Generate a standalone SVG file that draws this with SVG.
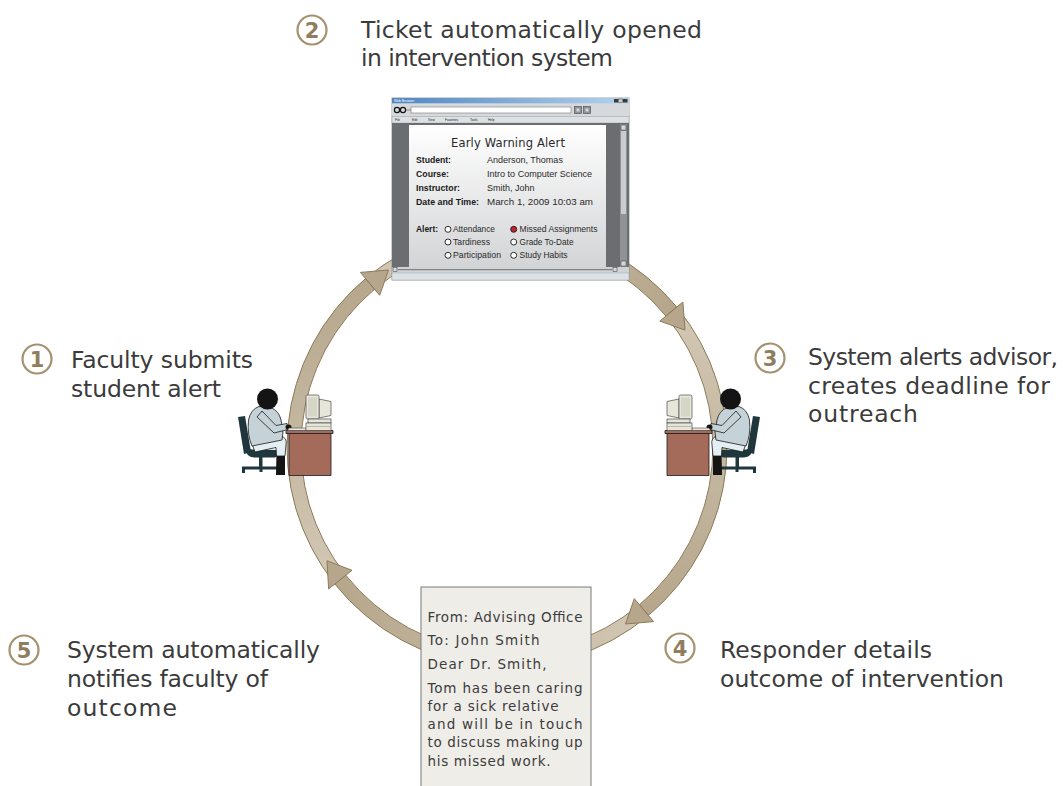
<svg xmlns="http://www.w3.org/2000/svg" xmlns:xlink="http://www.w3.org/1999/xlink" width="1063" height="786" viewBox="0 0 1063 786">
  <style>
    .label { font-family: "DejaVu Sans", "Liberation Sans", sans-serif; font-size: 23.5px; fill: #3b3b3b; }
    .num-ring { fill: #ffffff; stroke: #a3916f; stroke-width: 2.2; }
    .num { font-family: "DejaVu Sans", "Liberation Sans", sans-serif; font-size: 21px; font-weight: bold; fill: #8f7d5d; text-anchor: middle; }
    .seg { stroke: #8c7a59; stroke-width: 1; stroke-linejoin: round; }
    .note { font-family: "DejaVu Sans", "Liberation Sans", sans-serif; font-size: 13.5px; fill: #3c3c3c; }
    .ui { font-family: "Liberation Sans", Arial, sans-serif; font-size: 9px; fill: #2a2a2a; }
    .ui-b { font-family: "Liberation Sans", Arial, sans-serif; font-size: 8.5px; font-weight: bold; fill: #1a1a1a; }
    .ui-title { font-family: "DejaVu Sans", "Liberation Sans", sans-serif; font-size: 11.5px; fill: #2a2a2a; }
    .radio { fill: #ffffff; stroke: #1a1a1a; stroke-width: 0.9; }
    .menu { font-family: "Liberation Sans", Arial, sans-serif; font-size: 3.2px; fill: #222; }
    .outline { stroke: #1a1a1a; stroke-width: 0.8; stroke-linejoin: round; }
  </style>
  <defs>
    <linearGradient id="g1" gradientUnits="userSpaceOnUse" x1="340.3" y1="579.6" x2="370.1" y2="283.8">
      <stop offset="0" stop-color="#d2c7b4"/><stop offset="1" stop-color="#b6a78c"/>
    </linearGradient>
    <linearGradient id="g2" gradientUnits="userSpaceOnUse" x1="370.1" y1="283.8" x2="671.4" y2="311.5">
      <stop offset="0" stop-color="#d2c7b4"/><stop offset="1" stop-color="#b6a78c"/>
    </linearGradient>
    <linearGradient id="g3" gradientUnits="userSpaceOnUse" x1="671.4" y1="311.5" x2="643.9" y2="610.2">
      <stop offset="0" stop-color="#d2c7b4"/><stop offset="1" stop-color="#b6a78c"/>
    </linearGradient>
    <linearGradient id="g4" gradientUnits="userSpaceOnUse" x1="643.9" y1="610.2" x2="340.3" y2="579.6">
      <stop offset="0" stop-color="#d2c7b4"/><stop offset="1" stop-color="#b6a78c"/>
    </linearGradient>
    <linearGradient id="titlebar" x1="0" y1="0" x2="1" y2="0">
      <stop offset="0" stop-color="#4f86c2"/><stop offset="1" stop-color="#b5d3ee"/>
    </linearGradient>
    <linearGradient id="page" x1="0" y1="0" x2="0" y2="1">
      <stop offset="0" stop-color="#ffffff"/><stop offset="1" stop-color="#d3d4d6"/>
    </linearGradient>

    <!-- person seated at a desk with a computer -->
    <g id="workstation">
      <!-- chair -->
      <g fill="#1f373c">
        <path d="M238,417 L245,416 L251,452 L244,454 Z"/>
        <path d="M245,448 Q246,457 254,457.5 L275,457.5 Q279,456 277.5,450 L252,449.5 Z"/>
        <rect x="259" y="457" width="3.5" height="10"/>
        <rect x="242" y="466.5" width="39" height="3"/>
        <rect x="242" y="469" width="3" height="4"/>
        <rect x="278" y="469" width="3" height="4"/>
        <rect x="259.5" y="469" width="3" height="3"/>
      </g>
      <!-- legs -->
      <path d="M276.5,452 L285,452 L285,475 L276,475 Z" fill="#141414"/>
      <path class="outline" d="M251,441 L281,436.5 Q287.5,437.5 286,445 L285,456 L276.5,456 L276,447.5 L255,452 Z" fill="#e3eff3"/>
      <!-- coat -->
      <path class="outline" d="M259,406.5 L271,407.5 Q279,411 281,420 L283,432 L282,440 L252,446 Q247,435 248.5,420 Q250.5,409.5 259,406.5 Z" fill="#c5d2d7"/>
      <path class="outline" d="M262,411 L276,425.5 L287,423.5 L288,429.5 L274,433 L257,417 Z" fill="#c5d2d7"/>
      <ellipse cx="288.5" cy="427" rx="3" ry="2.6" fill="#141414"/>
      <!-- head -->
      <circle cx="267.5" cy="399" r="10.5" fill="#141414"/>
      <!-- desk -->
      <rect class="outline" x="289" y="433.5" width="42" height="42" fill="#a56b5a"/>
      <rect class="outline" x="286" y="430.5" width="47" height="3" fill="#a56b5a"/>
      <!-- keyboard -->
      <path d="M289,428 L306,428 L306.5,430.5 L287.5,430.5 Z" fill="#e7e6da" stroke="#4a4a4a" stroke-width="0.6"/>
      <!-- monitor and base -->
      <g fill="#e7e6da" stroke="#4a4a4a" stroke-width="0.7">
        <path d="M319,399 L331,401.5 L331,415.5 L319,418 Z"/>
        <rect x="306" y="395" width="13" height="24" rx="1.5"/>
        <rect x="308" y="419" width="23" height="4"/>
        <rect x="306" y="423" width="25" height="7.5"/>
      </g>
      <rect x="308" y="397.5" width="9" height="19" fill="#d6d6c6"/>
      <line x1="307" y1="426.5" x2="330" y2="426.5" stroke="#8a8a80" stroke-width="0.5"/>
    </g>
  </defs>

  <rect width="1063" height="786" fill="#ffffff"/>

  <!-- circular cycle of arrows -->
  <g id="connectors">
    <!-- bodies -->
    <path class="seg" fill="url(#g1)" d="M334.8,583.9 A220,220 0 0 1 365.6,278.5 L374.6,289.2 A206,206 0 0 0 345.8,575.2 Z"/>
    <path class="seg" fill="url(#g2)" d="M365.6,278.5 A220,220 0 0 1 676.8,307.1 L665.9,316.0 A206,206 0 0 0 374.6,289.2 Z"/>
    <path class="seg" fill="url(#g3)" d="M676.8,307.1 A220,220 0 0 1 648.4,615.5 L639.4,604.8 A206,206 0 0 0 665.9,316.0 Z"/>
    <path class="seg" fill="url(#g4)" d="M648.4,615.5 A220,220 0 0 1 334.8,583.9 L345.8,575.2 A206,206 0 0 0 639.4,604.8 Z"/>
    <!-- heads -->
    <path class="seg" fill="url(#g1)" d="M360.4,272.4 L388.5,270.0 L379.7,295.3 Z"/>
    <path class="seg" fill="url(#g2)" d="M682.9,302.0 L685.0,330.1 L659.8,321.1 Z"/>
    <path class="seg" fill="url(#g3)" d="M653.6,621.6 L625.5,624.0 L634.3,598.7 Z"/>
    <path class="seg" fill="url(#g4)" d="M328.6,588.9 L327.0,560.8 L352.0,570.3 Z"/>
  </g>

  <!-- step 1 -->
  <g id="step1">
    <use xlink:href="#workstation" href="#workstation"/>
    <circle class="num-ring" cx="37" cy="359" r="14.5"/>
    <text class="num" x="37" y="366.5">1</text>
    <text class="label" x="71" y="368" textLength="182">Faculty submits</text>
    <text class="label" x="71" y="397" textLength="150">student alert</text>
  </g>

  <!-- step 2: browser ticket -->
  <g id="step2">
    <circle class="num-ring" cx="312" cy="30" r="14.5"/>
    <text class="num" x="312" y="37.5">2</text>
    <text class="label" x="361" y="38" textLength="341">Ticket automatically opened</text>
    <text class="label" x="361" y="66" textLength="252">in intervention system</text>

    <g id="browser">
      <rect x="392" y="98" width="237" height="182" fill="#cdd2d5" stroke="#8a8f93" stroke-width="0.8"/>
      <rect x="392" y="98" width="237" height="5.5" fill="url(#titlebar)"/>
      <text x="394" y="102.3" font-family="Liberation Sans, Arial, sans-serif" font-size="3.4" fill="#ffffff">Web Browser</text>
      <rect x="614" y="99" width="4" height="3.5" fill="#3a3a3a"/>
      <rect x="618.5" y="99" width="4" height="3.5" fill="#d0d0d0" stroke="#3a3a3a" stroke-width="0.5"/>
      <rect x="623" y="99" width="4.5" height="3.5" fill="#3a3a3a"/>
      <!-- toolbar -->
      <rect x="392" y="103.5" width="237" height="13" fill="#d5d9dc"/>
      <circle cx="397" cy="110" r="2.6" fill="none" stroke="#111" stroke-width="1.2"/>
      <circle cx="403" cy="110" r="2.6" fill="none" stroke="#111" stroke-width="1.2"/>
      <line x1="405.6" y1="110" x2="411" y2="110" stroke="#555" stroke-width="0.6"/>
      <rect x="411" y="107" width="160" height="6" fill="#ffffff" stroke="#777" stroke-width="0.6"/>
      <rect x="574.5" y="106.5" width="7" height="7" fill="#8d9397" stroke="#444" stroke-width="0.6"/>
      <rect x="576.5" y="108.5" width="3" height="3" fill="#d5d9dc"/>
      <rect x="583.5" y="106.5" width="7" height="7" fill="#8d9397" stroke="#444" stroke-width="0.6"/>
      <rect x="585.5" y="108.5" width="3" height="3" fill="#d5d9dc"/>
      <!-- menu bar -->
      <rect x="392" y="116.5" width="237" height="6.5" fill="#dde1e3" stroke="#9aa0a4" stroke-width="0.5"/>
      <text class="menu" x="395" y="121">File</text>
      <text class="menu" x="412" y="121">Edit</text>
      <text class="menu" x="428" y="121">View</text>
      <text class="menu" x="445" y="121">Favorites</text>
      <text class="menu" x="470" y="121">Tools</text>
      <text class="menu" x="488" y="121">Help</text>
      <!-- page area -->
      <rect x="392" y="123" width="237" height="144" fill="#6c6d70"/>
      <rect x="409" y="125" width="197" height="142" fill="url(#page)"/>
      <!-- vertical scrollbar -->
      <rect x="620" y="124" width="7" height="143" fill="#8f9396"/>
      <rect x="621" y="131" width="5" height="83" fill="#c9cdcf"/>
      <rect x="621" y="125" width="5" height="5" fill="#d5d9dc" stroke="#333" stroke-width="0.5"/>
      <rect x="621" y="261" width="5" height="5" fill="#d5d9dc" stroke="#333" stroke-width="0.5"/>
      <!-- horizontal scrollbar and status bar -->
      <rect x="392" y="267" width="237" height="5.5" fill="#cfd3d6"/>
      <rect x="393" y="267.7" width="4" height="4" fill="#d5d9dc" stroke="#333" stroke-width="0.5"/>
      <line x1="398" y1="269.7" x2="612" y2="269.7" stroke="#555" stroke-width="0.8"/>
      <rect x="613" y="267.7" width="4" height="4" fill="#d5d9dc" stroke="#333" stroke-width="0.5"/>
      <rect x="392" y="273" width="237" height="7" fill="#dbe2e5" stroke="#a3a9ad" stroke-width="0.5"/>

      <!-- alert form -->
      <text class="ui-title" x="508" y="146.7" text-anchor="middle" textLength="114">Early Warning Alert</text>
      <text class="ui-b" x="416" y="163" textLength="35" lengthAdjust="spacingAndGlyphs">Student:</text>
      <text class="ui-b" x="416" y="177" textLength="33" lengthAdjust="spacingAndGlyphs">Course:</text>
      <text class="ui-b" x="416" y="191" textLength="44" lengthAdjust="spacingAndGlyphs">Instructor:</text>
      <text class="ui-b" x="416" y="205" textLength="63" lengthAdjust="spacingAndGlyphs">Date and Time:</text>
      <text class="ui" x="487" y="163">Anderson, Thomas</text>
      <text class="ui" x="487" y="177" textLength="105" lengthAdjust="spacingAndGlyphs">Intro to Computer Science</text>
      <text class="ui" x="487" y="191">Smith, John</text>
      <text class="ui" x="487" y="205" textLength="106" lengthAdjust="spacingAndGlyphs">March 1, 2009 10:03 am</text>

      <text class="ui-b" x="416" y="232.3" textLength="22" lengthAdjust="spacingAndGlyphs">Alert:</text>
      <circle class="radio" cx="448" cy="229.3" r="3"/>
      <circle class="radio" cx="448" cy="242" r="3"/>
      <circle class="radio" cx="448" cy="255.3" r="3"/>
      <circle cx="513.7" cy="229.3" r="3" fill="#c8202a" stroke="#1a1a1a" stroke-width="0.9"/>
      <circle class="radio" cx="513.7" cy="242" r="3"/>
      <circle class="radio" cx="513.7" cy="255.3" r="3"/>
      <text class="ui" x="453" y="232.3" textLength="42" lengthAdjust="spacingAndGlyphs">Attendance</text>
      <text class="ui" x="453" y="245" textLength="37" lengthAdjust="spacingAndGlyphs">Tardiness</text>
      <text class="ui" x="453" y="258.3" textLength="48" lengthAdjust="spacingAndGlyphs">Participation</text>
      <text class="ui" x="519.5" y="232.3" textLength="78" lengthAdjust="spacingAndGlyphs">Missed Assignments</text>
      <text class="ui" x="519.5" y="245" textLength="54" lengthAdjust="spacingAndGlyphs">Grade To-Date</text>
      <text class="ui" x="519.5" y="258.3" textLength="48" lengthAdjust="spacingAndGlyphs">Study Habits</text>
    </g>
  </g>

  <!-- step 3 -->
  <g id="step3">
    <use xlink:href="#workstation" href="#workstation" transform="translate(998,0) scale(-1,1)"/>
    <circle class="num-ring" cx="770" cy="358" r="14.5"/>
    <text class="num" x="770" y="365.5">3</text>
    <text class="label" x="808" y="365" textLength="250">System alerts advisor,</text>
    <text class="label" x="808" y="394" textLength="242">creates deadline for</text>
    <text class="label" x="808" y="422" textLength="110">outreach</text>
  </g>

  <!-- step 4 -->
  <g id="step4">
    <circle class="num-ring" cx="680" cy="648" r="14.5"/>
    <text class="num" x="680" y="655.5">4</text>
    <text class="label" x="720" y="658" textLength="212">Responder details</text>
    <text class="label" x="720" y="687" textLength="284">outcome of intervention</text>
  </g>

  <!-- outcome message -->
  <g id="message">
    <rect x="421" y="587" width="170" height="210" fill="#efede8" stroke="#7a7a7a" stroke-width="1"/>
    <text class="note" x="427.5" y="621.5" textLength="155">From: Advising Office</text>
    <text class="note" x="427.5" y="645" textLength="112">To: John Smith</text>
    <text class="note" x="427.5" y="668.5" textLength="119">Dear Dr. Smith,</text>
    <text class="note" x="427.5" y="693" textLength="155">Tom has been caring</text>
    <text class="note" x="427.5" y="711" textLength="131">for a sick relative</text>
    <text class="note" x="427.5" y="729" textLength="155">and will be in touch</text>
    <text class="note" x="427.5" y="747" textLength="155">to discuss making up</text>
    <text class="note" x="427.5" y="765.5" textLength="123">his missed work.</text>
  </g>

  <!-- step 5 -->
  <g id="step5">
    <circle class="num-ring" cx="24" cy="650" r="14.5"/>
    <text class="num" x="24" y="657.5">5</text>
    <text class="label" x="67" y="658" textLength="253">System automatically</text>
    <text class="label" x="67" y="687" textLength="201">notifies faculty of</text>
    <text class="label" x="67" y="716" textLength="110">outcome</text>
  </g>
</svg>
